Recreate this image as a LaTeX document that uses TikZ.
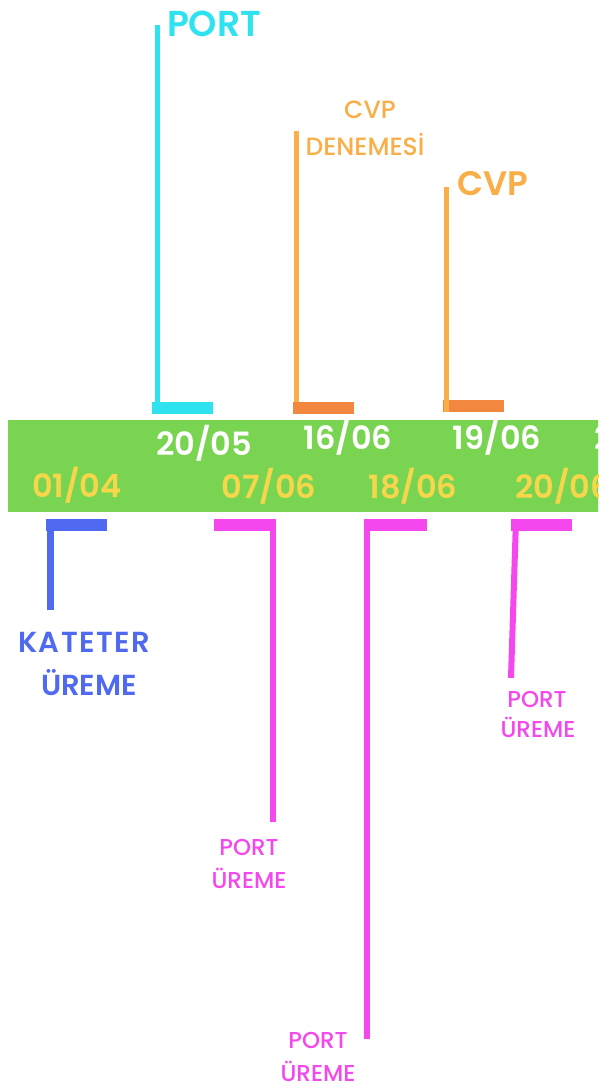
\documentclass[tikz,border=0pt]{standalone}
\usepackage{fontspec}
\setmainfont{Poppins}[UprightFont={Poppins Medium}, BoldFont={Poppins SemiBold}]
\definecolor{band}{HTML}{79D551}
\definecolor{cyanc}{HTML}{2FE2EF}
\definecolor{orbar}{HTML}{F2873F}
\definecolor{orline}{HTML}{F9AE48}
\definecolor{yel}{HTML}{F8D64C}
\definecolor{bluec}{HTML}{4F6AF0}
\definecolor{mag}{HTML}{F447EE}
\tikzset{
  txt/.style={inner sep=0pt, outer sep=0pt},
  tick/.style={fill=#1, inner sep=0pt, outer sep=0pt, minimum width=61pt, minimum height=12pt, anchor=west},
  stem/.style={draw=#1, line width=5pt},
  date/.style={txt, anchor=base, font=\bfseries\fontsize{32}{32}\selectfont},
  lab/.style={txt, anchor=base, font=\fontsize{#1}{#1}\selectfont},
  biglab/.style={txt, anchor=base west, font=\bfseries\fontsize{#1}{#1}\selectfont},
}
\begin{document}
\begin{tikzpicture}[x=1pt, y=-1pt]
\clip (0,0) rectangle (598,1088);
\fill[white] (0,0) rectangle (598,1088);

% timeline band
\node[fill=band, inner sep=0pt, minimum width=600pt, minimum height=92pt, anchor=north west] (band) at (8,420) {};

% dates above the middle of the band
\node[date, white] (d2005) at (204,455) {20/05};
\node[date, white] (d1606) at (348,449) {16/06};
\node[date, white] (d1906) at (497,449) {19/06};
\node[date, white, anchor=base west] (dnext) at (594,449) {2};
% dates below
\node[date, yel] (d0104) at (77,497) {01/04};
\node[date, yel] (d0706) at (269,498) {07/06};
\node[date, yel] (d1806) at (413,498) {18/06};
\node[date, yel, anchor=base west] (d2006) at (515,498) {20/06};

% ticks above the band
\node[tick=cyanc] (tport) at (152,407.5) {};
\node[tick=orbar] (tcvpd) at (293,407.5) {};
\node[tick=orbar] (tcvp) at (443,405.5) {};
% ticks below the band
\node[tick=bluec] (tkat) at (46,525) {};
\node[tick=mag] (tp1) at (214,525) {};
\node[tick=mag] (tp2) at (366,525) {};
\node[tick=mag] (tp3) at (511,525) {};

% stem ends
\coordinate (eport) at (157.5,25);
\coordinate (ecvpd) at (296.5,131);
\coordinate (ecvp) at (446,187);
\coordinate (ekat) at (50,610);
\coordinate (ep1) at (273,822);
\coordinate (ep2) at (367,1039);
\coordinate (ep3) at (511,678);

% stems
\draw[stem=cyanc] (eport |- tport.north) -- (eport);
\draw[stem=orline] (ecvpd |- tcvpd.north) -- (ecvpd);
\draw[stem=orline] ([yshift=-12pt]ecvp |- tcvp.north) -- (ecvp);
\draw[stem=bluec, line width=7pt] (ekat |- tkat.south) -- (ekat);
\draw[stem=mag, line width=6pt] (ep1 |- tp1.north) -- (ep1);
\draw[stem=mag, line width=6pt] (ep2 |- tp2.north) -- (ep2);
\draw[stem=mag, line width=6pt] ([xshift=5pt]tp3.north west) -- (ep3);

% labels
\node[biglab=36, cyanc] (lport) at (167,36) {PORT};
\node[lab=25, orline] (lcvpd1) at (370,118) {CVP};
\node[lab=25, orline] (lcvpd2) at (365,155) {DENEMESİ};
\node[biglab=34, orline] (lcvp) at (457,195) {CVP};
\node[lab=28, bluec, font=\bfseries\fontsize{29}{29}\selectfont\addfontfeatures{LetterSpace=5}] (lkat1) at (84,652) {KATETER};
\node[lab=28, bluec, font=\bfseries\fontsize{29}{29}\selectfont] (lkat2) at (89,695) {ÜREME};
\node[lab=23, mag] (lp1a) at (249,855) {PORT};
\node[lab=23, mag] (lp1b) at (249,888) {ÜREME};
\node[lab=23, mag] (lp2a) at (318,1048) {PORT};
\node[lab=23, mag] (lp2b) at (318,1081) {ÜREME};
\node[lab=23, mag] (lp3a) at (537,707) {PORT};
\node[lab=23, mag] (lp3b) at (538,737) {ÜREME};
\end{tikzpicture}
\end{document}
